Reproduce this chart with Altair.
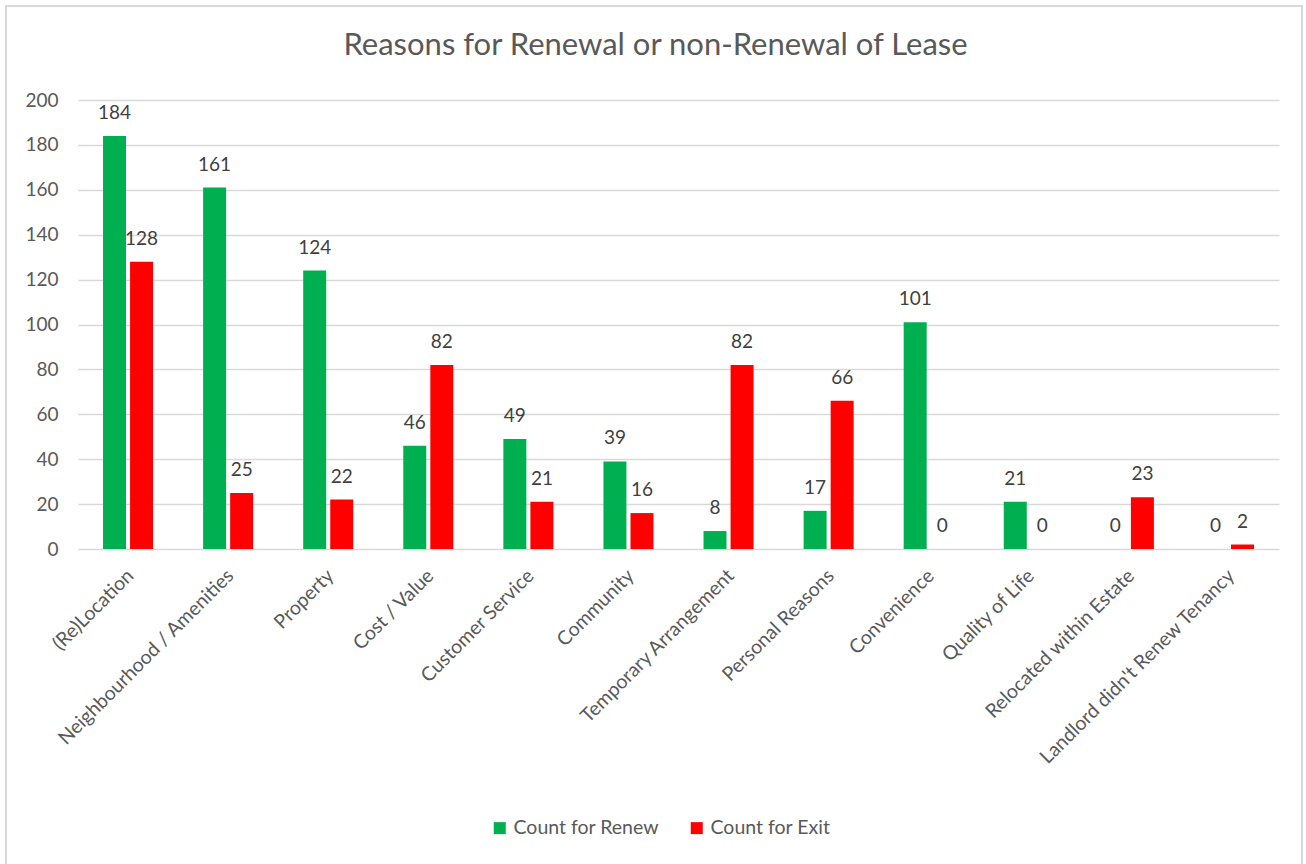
import altair as alt
import pandas as pd

categories = [
    "(Re)Location", "Neighbourhood / Amenities", "Property", "Cost / Value",
    "Customer Service", "Community", "Temporary Arrangement", "Personal Reasons",
    "Convenience", "Quality of Life", "Relocated within Estate",
    "Landlord didn't Renew Tenancy",
]
renew = [184, 161, 124, 46, 49, 39, 8, 17, 101, 21, 0, 0]
exit_counts = [128, 25, 22, 82, 21, 16, 82, 66, 0, 0, 23, 2]
series = ["Count for Renew", "Count for Exit"]
colors = ["#00B050", "#FF0000"]
y_ticks = list(range(0, 201, 20))

rows = []
for c, r, e in zip(categories, renew, exit_counts):
    rows.append({"Reason": c, "Series": series[0], "Count": r})
    rows.append({"Reason": c, "Series": series[1], "Count": e})
df = pd.DataFrame(rows)

FONT = "Lato"
TXT = "#595959"
FS = 19

x = alt.X("Reason:N", sort=categories,
          scale=alt.Scale(paddingInner=0.5, paddingOuter=0.25),
          axis=alt.Axis(title=None, labelAngle=-45, labelFontSize=19.5, labelColor=TXT,
                        labelFont=FONT, labelPadding=17, labelOffset=-4, ticks=False,
                        domain=False, grid=False, labelLimit=400))
xo = alt.XOffset("Series:N", sort=series, scale=alt.Scale(paddingInner=0.15))
y = alt.Y("Count:Q", scale=alt.Scale(domain=[0, 200], nice=False),
          axis=alt.Axis(title=None, values=y_ticks, labelFontSize=FS, labelColor=TXT,
                        labelFont=FONT, grid=True, gridColor="#d9d9d9", gridWidth=1.5,
                        domain=False, ticks=False, labelPadding=20))
color = alt.Color("Series:N", sort=series,
                  scale=alt.Scale(domain=series, range=colors),
                  legend=alt.Legend(title=None, orient="none", legendX=412, legendY=718,
                                    direction="horizontal", symbolType="square",
                                    symbolSize=144, symbolStrokeWidth=0,
                                    labelFontSize=19.5, labelColor=TXT, labelFont=FONT,
                                    labelOffset=4, columnPadding=28))

bars = alt.Chart(df).mark_bar().encode(x=x, xOffset=xo, y=y, color=color)
labels = alt.Chart(df).mark_text(baseline="alphabetic", dy=-17, fontSize=FS,
                                 color="#404040", font=FONT).encode(
    x=x, xOffset=xo, y=y, text="Count:Q")

frame = alt.Chart(pd.DataFrame({"f": [0]})).mark_rect(
    fill=None, stroke="#d9d9d9", strokeWidth=2).encode(
    x=alt.value(-72), x2=alt.value(1224), y=alt.value(-94), y2=alt.value(780))

chart = alt.layer(frame, bars, labels).properties(
    width=1201, height=449,
    padding={"left": 78, "top": 100, "right": 27, "bottom": 315},
    autosize=alt.AutoSizeParams(type="none"),
    title=alt.TitleParams("Reasons for Renewal or non-Renewal of Lease", fontSize=31,
                          color=TXT, font=FONT, fontWeight="normal", anchor="middle",
                          baseline="alphabetic", dx=-23, offset=-81),
).configure_view(stroke=None)

chart.save("out.html", embed_options={"renderer": "svg", "actions": False})
